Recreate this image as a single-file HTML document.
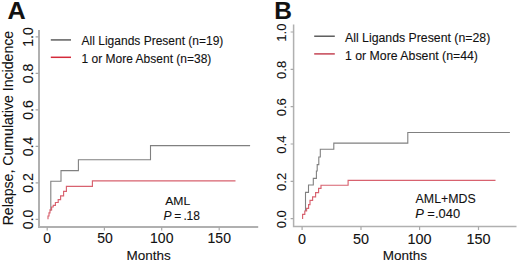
<!DOCTYPE html>
<html><head><meta charset="utf-8">
<style>
html,body{margin:0;padding:0;background:#fff;width:520px;height:262px;overflow:hidden}
svg{display:block}
text{font-family:"Liberation Sans",sans-serif;fill:#111;stroke:#111;stroke-width:0.1}
.ax{stroke:#b0b0b0;stroke-width:2;fill:none}
.tk{stroke:#a8a8a8;stroke-width:1.2;fill:none}
.g{stroke:#808080;stroke-width:1.1;fill:none}
.r{stroke:#d8626f;stroke-width:1.15;fill:none}
</style></head>
<body>
<svg width="520" height="262" viewBox="0 0 520 262">
<rect width="520" height="262" fill="#fff"/>
<!-- Panel A -->
<text transform="translate(7.6 18.8) scale(1.05 1)" font-size="24" font-weight="bold">A</text>
<text transform="translate(12.5 128.1) rotate(-90)" text-anchor="middle" font-size="14.12">Relapse, Cumulative Incidence</text>
<g font-size="14" text-anchor="middle">
<text transform="translate(32.9 219.5) rotate(-90)">0.0</text>
<text transform="translate(32.9 183) rotate(-90)">0.2</text>
<text transform="translate(32.9 146.5) rotate(-90)">0.4</text>
<text transform="translate(32.9 110) rotate(-90)">0.6</text>
<text transform="translate(32.9 73.5) rotate(-90)">0.8</text>
<text transform="translate(32.9 37) rotate(-90)">1.0</text>
</g>
<path class="ax" d="M39 30 V227 H258.2"/>
<path class="tk" d="M35.6 219.3H39M35.6 182.8H39M35.6 146.3H39M35.6 109.8H39M35.6 73.3H39M35.6 36.8H39"/>
<path class="tk" d="M47.2 227V230.5M104.4 227V230.5M161.7 227V230.5M219.2 227V230.5"/>
<g font-size="14" text-anchor="middle">
<text x="47.2" y="243.3">0</text>
<text x="105" y="243.3">50</text>
<text x="161.75" y="243.3">100</text>
<text x="219.25" y="243.3">150</text>
</g>
<text x="148.6" y="260" font-size="13.5" text-anchor="middle">Months</text>
<path d="M50.8 39.9H71" stroke="#7a7a7a" stroke-width="1.8"/>
<path d="M50.8 57.3H71" stroke="#d42a3a" stroke-width="1.5"/>
<text x="81.6" y="44.7" font-size="12">All Ligands Present (n=19)</text>
<text x="81.6" y="62.6" font-size="12">1 or More Absent (n=38)</text>
<text transform="translate(165.2 204.6) scale(1.04 1)" font-size="11.7">AML</text>
<text y="219.8" font-size="12"><tspan x="163.5" font-style="italic">P</tspan><tspan x="174.2">=</tspan><tspan x="183.4">.</tspan><tspan x="186.6">18</tspan></text>
<path class="g" d="M50.8 211V181.3H61V170.6H78.4V159.8H150.5V145.6H250.1"/>
<path class="r" d="M48 219.3V216H49V212.8H50V209.8H51.6V207H53.2V205.3H55.4V202.5H58.2V199.6H60.6V195.8H63.6V191.4H66.4V186.4H92.4V180.9H235.5"/>

<!-- Panel B -->
<text x="274.3" y="18.9" font-size="24.5" font-weight="bold">B</text>
<g font-size="13" text-anchor="middle">
<text transform="translate(285.8 219.2) rotate(-90)">0.0</text>
<text transform="translate(285.8 181.9) rotate(-90)">0.2</text>
<text transform="translate(285.8 144.6) rotate(-90)">0.4</text>
<text transform="translate(285.8 107.2) rotate(-90)">0.6</text>
<text transform="translate(285.8 69.9) rotate(-90)">0.8</text>
<text transform="translate(285.8 32.6) rotate(-90)">1.0</text>
</g>
<path class="ax" d="M293.6 24.4V226.4H516.5" style="stroke-width:1.5"/>
<path class="tk" d="M290.6 218.7H293.5M290.6 181.4H293.5M290.6 144H293.5M290.6 106.7H293.5M290.6 69.3H293.5M290.6 32H293.5"/>
<path class="tk" d="M302.1 226.4V230M361 226.4V230M419.6 226.4V230M478.5 226.4V230"/>
<g font-size="14.4" text-anchor="middle">
<text x="302.1" y="243.7">0</text>
<text x="361.1" y="243.7">50</text>
<text x="419.6" y="243.7">100</text>
<text x="478.5" y="243.7">150</text>
</g>
<text x="404.8" y="260" font-size="13.5" text-anchor="middle">Months</text>
<path d="M314.2 36.2H334.8" stroke="#444" stroke-width="1.3"/>
<path d="M314.2 53.9H334.8" stroke="#c03848" stroke-width="1.4"/>
<text x="345" y="41.7" font-size="12.3">All Ligands Present (n=28)</text>
<text x="345" y="59.6" font-size="12.3">1 or More Absent (n=44)</text>
<text transform="translate(415.6 202.8) scale(1.03 1)" font-size="12">AML+MDS</text>
<text transform="translate(0 217.7) scale(1.06 1)" font-size="12.2"><tspan x="391.7" font-style="italic">P</tspan><tspan x="403">=</tspan><tspan x="410.4">.</tspan><tspan x="413.7">040</tspan></text>
<path class="g" d="M305.5 211V192.4H308.5V185H313.3V178.4H316.4V171H317.2V164.6H318.8V157H320.3V149.3H333.8V143.1H407.8V132.5H509.9"/>
<path class="r" d="M302.6 219V214.3H304.8V211H306.6V208.3H308.6V204.6H310V200.3H312.6V196.8H315.6V192.6H318.6V188.4H321V185.2H348.1V180.3H495.5"/>
</svg>
</body></html>
